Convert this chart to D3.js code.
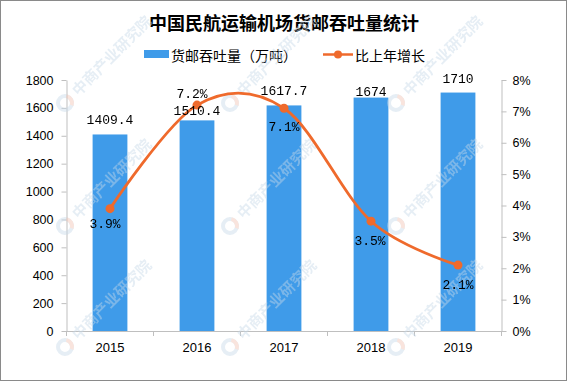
<!DOCTYPE html>
<html><head><meta charset="utf-8">
<script src="https://cdn.jsdelivr.net/npm/d3@7"></script>
<style>body{margin:0;background:#fff}svg{display:block}</style>
</head><body>
<svg id="c" width="568" height="382"></svg>
<script>
// ---- data ----
const title = "中国民航运输机场货邮吞吐量统计";
const legendBar = "货邮吞吐量（万吨）";
const legendLine = "比上年增长";
const years = ["2015", "2016", "2017", "2018", "2019"];
const volume = [1409.4, 1510.4, 1617.7, 1674, 1710];
const growth = [3.9, 7.2, 7.1, 3.5, 2.1];
const leftTicks = [0, 200, 400, 600, 800, 1000, 1200, 1400, 1600, 1800];
const rightTicks = [0, 1, 2, 3, 4, 5, 6, 7, 8];
const watermark = "中商产业研究院";

// ---- layout (label nudges, not data) ----
const volLabelDy = [-10, -5, -10, -2, -10];
const growthLabelDx = [-5, -5, 0, -1, 0];
const growthLabelDy = [19, -7, 23, 23.5, 23.5];

const barColor = "#3f9be9", lineColor = "#ef6a2c", axisColor = "#bfbfbf";
const svg = d3.select("#c");
const L = 66.5, R = 501.5, T = 80, B = 331;

const x = d3.scaleBand().domain(years).range([L, R]).paddingInner(0.6).paddingOuter(0.3);
const yL = d3.scaleLinear().domain([0, 1800]).range([B, T]);
const yR = d3.scaleLinear().domain([0, 8]).range([B, T]);
const cx = d => x(d) + x.bandwidth() / 2;

// border
svg.append("rect").attr("x", 0.5).attr("y", 0.5).attr("width", 566).attr("height", 380)
  .attr("fill", "#fff").attr("stroke", "#8a8a8a");

// title
svg.append("text").attr("x", 284).attr("y", 22).attr("text-anchor", "middle")
  .attr("dominant-baseline", "central")
  .style("font", "bold 18px 'Noto Sans CJK SC'").attr("fill", "#000").text(title);

// legend
svg.append("rect").attr("x", 144).attr("y", 50).attr("width", 25).attr("height", 8).attr("fill", barColor);
svg.append("text").attr("x", 171).attr("y", 54.5).attr("dominant-baseline", "central")
  .style("font", "14px 'Noto Sans CJK SC'").attr("fill", "#000").text(legendBar);
svg.append("line").attr("x1", 323).attr("x2", 353).attr("y1", 54.5).attr("y2", 54.5)
  .attr("stroke", lineColor).attr("stroke-width", 2.5);
svg.append("circle").attr("cx", 338).attr("cy", 54.5).attr("r", 4).attr("fill", lineColor);
svg.append("text").attr("x", 355).attr("y", 54.5).attr("dominant-baseline", "central")
  .style("font", "14px 'Noto Sans CJK SC'").attr("fill", "#000").text(legendLine);

// axes
const tickFont = "12.5px 'Liberation Sans'";
const gl = svg.append("g").attr("transform", `translate(${L},0)`)
  .call(d3.axisLeft(yL).tickValues(leftTicks).tickSize(5).tickPadding(8).tickSizeOuter(0)
    .tickFormat(d3.format("d")));
const gr = svg.append("g").attr("transform", `translate(${R},0)`)
  .call(d3.axisRight(yR).tickValues(rightTicks).tickSize(5).tickPadding(6).tickSizeOuter(0)
    .tickFormat(d => d + "%"));
const gb = svg.append("g").attr("transform", `translate(0,${B})`)
  .call(d3.axisBottom(x).tickSize(0).tickPadding(12).tickSizeOuter(0));
[gl, gr, gb].forEach(g => {
  g.selectAll("path.domain").attr("stroke", axisColor);
  g.selectAll(".tick line").attr("stroke", axisColor);
  g.selectAll("text").style("font", tickFont).attr("fill", "#000");
});
gb.selectAll("text").style("font", "13px 'Liberation Sans'");
// category boundary ticks
const bounds = years.map(d => cx(d) - x.step() / 2).concat([cx(years[years.length - 1]) + x.step() / 2]);
svg.append("g").selectAll("line").data(bounds).join("line")
  .attr("x1", d => d).attr("x2", d => d).attr("y1", B).attr("y2", B + 5)
  .attr("stroke", axisColor);

// bars
svg.append("g").selectAll("rect").data(volume).join("rect")
  .attr("x", (d, i) => x(years[i])).attr("width", x.bandwidth())
  .attr("y", d => yL(d)).attr("height", d => B - yL(d)).attr("fill", barColor);

// watermark (only instances that fit fully inside the frame)
const wm = svg.append("g").attr("opacity", 0.45);
const wmX = [65, 230, 396], wmY = [103, 226, 347];
wmY.forEach(yy => wmX.forEach(xx => {
  const g = wm.append("g").attr("transform", `translate(${xx},${yy})`);
  g.append("circle").attr("r", 7).attr("fill", "none").attr("stroke", "#c7d9e8").attr("stroke-width", 4);
  g.append("path").attr("d", d3.arc()({innerRadius: 5, outerRadius: 9, startAngle: 0.2, endAngle: 1.9}))
    .attr("fill", "#f1c3b3");
  g.append("text").attr("transform", "rotate(-45)").attr("x", 14).attr("y", 5)
    .style("font", "bold 15px 'Noto Sans CJK SC'").attr("fill", "#c7d9e8").text(watermark);
}));

// line
const pts = growth.map((g, i) => [cx(years[i]), yR(g)]);
svg.append("path").attr("d", d3.line().curve(d3.curveCardinal.tension(0))(pts))
  .attr("fill", "none").attr("stroke", lineColor).attr("stroke-width", 2.8);
svg.append("g").selectAll("circle").data(pts).join("circle")
  .attr("cx", d => d[0]).attr("cy", d => d[1]).attr("r", 4.5).attr("fill", lineColor);

// labels
const labFont = "13px 'Liberation Mono'";
svg.append("g").selectAll("text").data(volume).join("text")
  .attr("x", (d, i) => cx(years[i])).attr("y", (d, i) => yL(d) + volLabelDy[i])
  .attr("text-anchor", "middle").style("font", labFont).attr("fill", "#000")
  .text(d => String(d));
svg.append("g").selectAll("text").data(growth).join("text")
  .attr("x", (d, i) => cx(years[i]) + growthLabelDx[i]).attr("y", (d, i) => yR(d) + growthLabelDy[i])
  .attr("text-anchor", "middle").style("font", labFont).attr("fill", "#000")
  .text(d => d.toFixed(1) + "%");
</script>
</body></html>
